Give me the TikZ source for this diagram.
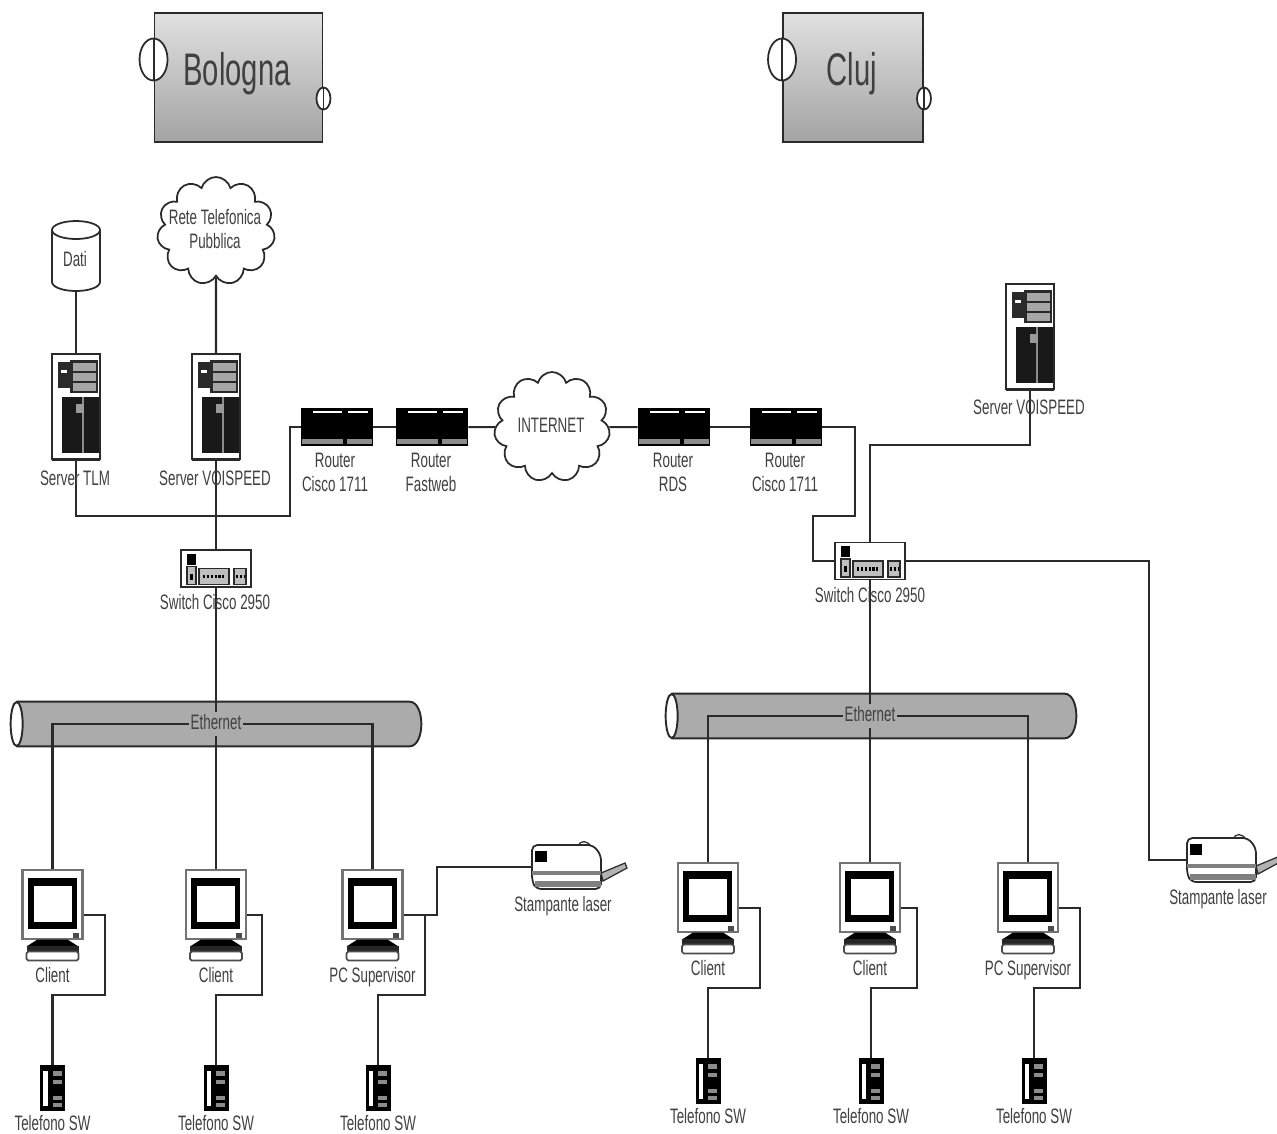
\documentclass[tikz,border=0pt]{standalone}
\usepackage{graphicx}
\usepackage{fontspec}
\setmainfont{Liberation Sans}
\usetikzlibrary{shapes.symbols,calc}
\pgfdeclarelayer{back}
\pgfsetlayers{back,main}
\definecolor{ink}{HTML}{2A2A2A}
\definecolor{txt}{HTML}{404040}
\definecolor{tubegray}{HTML}{ABABAB}
\newcommand{\sq}[1]{\scalebox{0.64}[1]{#1}}
\tikzset{
  x=0.02cm,y=-0.02cm,
  wire/.style={draw=ink,line width=1.15pt,line join=miter},
  lbl/.style={text=txt,inner sep=0pt,yshift=-0.04cm,text height=8.5pt,text depth=2.5pt,font=\fontsize{11.9}{13.6}\selectfont},
  lbltwo/.style={text=txt,inner sep=0pt,align=center,font=\fontsize{11.9}{13.6}\selectfont},
  big/.style={text=txt,inner sep=0pt,yshift=-0.08cm,text height=19pt,text depth=5.5pt,font=\fontsize{26}{30}\selectfont},
  iconbox/.style 2 args={inner sep=0pt,minimum width=#1*0.02cm,minimum height=#2*0.02cm},
  cloudbox/.style 2 args={cloud,cloud puffs=11,cloud ignores aspect,draw=ink,fill=white,line width=1pt,inner sep=0pt,minimum width=#1*0.02cm,minimum height=#2*0.02cm},
  site/.style 2 args={rectangle,draw=ink,line width=1.1pt,top color=black!12,bottom color=black!36,inner sep=0pt,minimum width=#1*0.02cm,minimum height=#2*0.02cm},
  ethlabel/.style={fill=tubegray,text=txt,inner sep=1pt,yshift=-0.04cm,text height=8.5pt,text depth=2.5pt,font=\fontsize{11.9}{13.6}\selectfont},
  icnserver/.pic={
    \fill[ink] (-24,48) rectangle (24,54);
    \draw[ink,fill=white,line width=1pt] (-24,-53) rectangle (24,52);
    \fill[ink] (-18,-45) rectangle (-6,-19);
    \fill[white] (-15,-37) rectangle (-9,-34);
    \fill[ink] (-6,-47) rectangle (22,-14);
    \fill[black!35] (-3,-44) rectangle (20,-36);
    \fill[black!35] (-3,-34) rectangle (20,-26);
    \fill[black!35] (-3,-24) rectangle (20,-16);
    \fill[black!90] (-14,-10) rectangle (23,46);
    \fill[black!45] (5.5,-10) rectangle (7.5,46);
    \fill[black!40] (0,-3) rectangle (8,6);
  },
  icnrouter/.pic={
    \fill[black] (-36,-19) rectangle (36,19);
    \fill[white] (-24,-16) rectangle (5,-14);
    \fill[white] (11,-16) rectangle (31,-14);
    \fill[black!45] (-35,12) rectangle (35,17);
    \fill[black] (6,10) rectangle (10,19);
  },
  icnswitch/.pic={
    \draw[ink,fill=white,line width=1pt] (-35,-18.5) rectangle (35,18.5);
    \fill[black] (-29,-15) rectangle (-20,-4);
    \draw[ink,fill=black!25,line width=.6pt] (-29,-2) rectangle (-20,16);
    \fill[black] (-26,5) rectangle (-23,11);
    \draw[ink,fill=black!25,line width=.8pt] (-17,0) rectangle (13,16);
    \draw[black,line width=2pt,dash pattern=on 1.2pt off 1pt] (-13,8) -- (10,8);
    \draw[ink,fill=black!25,line width=.8pt] (18,0) rectangle (30,16);
    \draw[black,line width=2pt,dash pattern=on 1.2pt off 1pt] (20,8) -- (28,8);
  },
  icnmonitor/.pic={
    \draw[black!55,fill=white,line width=1.4pt] (-30,-34.5) rectangle (30,34.5);
    \fill[black] (-25,-26.5) rectangle (24,24.5);
    \fill[white] (-19,-18.5) rectangle (19,17.5);
    \fill[black!70] (20,28) rectangle (26,33);
    \fill[black] (-15,35) -- (15,35) -- (26,42) -- (-26,42) -- cycle;
    \fill[black!85] (-26,41) rectangle (26,48);
    \draw[black!70,fill=white,line width=1pt,rounded corners=1pt] (-26,47) rectangle (26,56);
  },
  icnphone/.pic={
    \fill[black] (-12.5,-23) rectangle (12.5,23);
    \draw[white,line width=2.4pt,rounded corners=1pt] (-7,-17) -- (-7,18);
    \fill[black!45] (0,-17) rectangle (9,-12);
    \fill[black!45] (0,-8) rectangle (9,-4);
    \fill[black!45] (0,8) rectangle (9,12);
    \fill[black!45] (0,15) rectangle (9,19);
  },
  icnprinter/.pic={
    \draw[ink,fill=black!30,line width=.7pt] (35,6) -- (59,-4) -- (61,1) -- (37,14) -- cycle;
    \draw[ink,fill=white,line width=.7pt] (12,-21) .. controls (14,-27) and (22,-27) .. (25,-20) -- cycle;
    \draw[ink,fill=white,line width=1pt,rounded corners=3pt] (-34,-22) -- (27,-22) -- (35,-12) -- (35,22) -- (-30,22) -- (-34,14) -- cycle;
    \fill[black] (-31,-16) rectangle (-19,-5);
    \fill[black!50] (-34,4) rectangle (35,8);
    \fill[black!50] (-31,14) rectangle (35,20);
  },
  icndisk/.pic={
    \draw[ink,fill=white,line width=1pt] (-24,-26) -- (-24,26) arc[start angle=180,end angle=360,x radius=24,y radius=-9] -- (24,-26) arc[start angle=0,end angle=180,x radius=24,y radius=-9];
    \draw[ink,line width=1pt] (-24,-26) arc[start angle=180,end angle=360,x radius=24,y radius=-9];
  },
}
\newcommand{\clientset}[6]{%
  \node[iconbox={60}{69}] (#1) at (#2,#3+34.5) {};
  \node[iconbox={25}{46}] (#1p) at (#6,#3+218) {};
  \coordinate (#1b) at (#5,#3+125);
  \begin{pgfonlayer}{back}
    \draw[wire] ($(#1.east)+(0,10)$) -| (#1b) -| (#1p.north);
  \end{pgfonlayer}
  \pic at (#1) {icnmonitor};
  \pic at (#1p) {icnphone};
  \node[lbl] (#1t) at (#2,#3+105) {\sq{#4}};
  \node[lbl] (#1pt) at (#6,#3+253) {\sq{Telefono SW}};
}
\newcommand{\tube}[3]{%
  \node[iconbox={410}{44}] (#1) at (#2,#3) {};
  \fill[tubegray,draw=ink,line width=1.1pt] ($(#1.north west)+(6,0)$) -- ($(#1.north east)+(-12,0)$)
    .. controls ($(#1.north east)+(4,0)$) and ($(#1.south east)+(4,0)$) .. ($(#1.south east)+(-12,0)$)
    -- ($(#1.south west)+(6,0)$);
  \draw[ink,fill=white,line width=1.1pt] ($(#1.west)+(6,0)$) ellipse[x radius=6,y radius=22];
}
\begin{document}
\begin{tikzpicture}
\useasboundingbox (0,0) rectangle (1277,1133);
\begin{pgfonlayer}{back}
  \fill[white] (0,0) rectangle (1277,1133);
\end{pgfonlayer}

% sites
\node[site={168}{129}] (bologna) at (238.5,77.5) {};
\fill[white] ($(bologna.west)+(0,-18)$) ellipse[x radius=14,y radius=21];
\draw[ink,line width=1pt] ($(bologna.west)+(0,-18)$) ellipse[x radius=14,y radius=21];
\draw[ink,line width=1.1pt] ($(bologna.west)+(0,-39)$) -- ($(bologna.west)+(0,3)$);
\fill[white] ($(bologna.east)+(0,21)$) ellipse[x radius=7,y radius=11];
\draw[ink,line width=1pt] ($(bologna.east)+(0,21)$) ellipse[x radius=7,y radius=11];
\draw[ink,line width=1.1pt] ($(bologna.east)+(0,10)$) -- ($(bologna.east)+(0,32)$);
\node[big] (bolognat) at (237,70) {\sq{Bologna}};

\node[site={140}{129}] (cluj) at (853,77.5) {};
\fill[white] ($(cluj.west)+(0,-18)$) ellipse[x radius=14,y radius=21];
\draw[ink,line width=1pt] ($(cluj.west)+(0,-18)$) ellipse[x radius=14,y radius=21];
\draw[ink,line width=1.1pt] ($(cluj.west)+(0,-39)$) -- ($(cluj.west)+(0,3)$);
\fill[white] ($(cluj.east)+(0,21)$) ellipse[x radius=7,y radius=11];
\draw[ink,line width=1pt] ($(cluj.east)+(0,21)$) ellipse[x radius=7,y radius=11];
\draw[ink,line width=1.1pt] ($(cluj.east)+(0,10)$) -- ($(cluj.east)+(0,32)$);
\node[big] (clujt) at (852,70) {\sq{Cluj}};

% placed devices
\node[iconbox={48}{70}] (dati) at (76,256) {};
\node[iconbox={48}{106}] (tlm) at (76,407) {};
\node[iconbox={48}{106}] (voip) at (216,407) {};
\node[cloudbox={118}{108}] (pstn) at (216,231) {};
\node[iconbox={72}{38}] (r1) at (337,427) {};
\node[iconbox={72}{38}] (r2) at (432,427) {};
\node[cloudbox={116}{110}] (inet) at (552,427) {};
\node[iconbox={72}{38}] (r3) at (674,427) {};
\node[iconbox={72}{38}] (r4) at (786,427) {};
\node[iconbox={70}{37}] (sw1) at (216,568.5) {};
\node[iconbox={70}{37}] (sw2) at (870,561) {};
\node[iconbox={48}{106}] (voip2) at (1030,337) {};
\node[iconbox={70}{44}] (pr1) at (566,867) {};
\node[iconbox={70}{44}] (pr2) at (1221,860) {};

\begin{pgfonlayer}{back}
  \tube{tube1}{216}{724}
  \tube{tube2}{871}{716}
\end{pgfonlayer}

\node[ethlabel] (eth1) at (216,722) {\sq{Ethernet}};
\node[ethlabel] (eth2) at (870,714) {\sq{Ethernet}};

\clientset{c1}{52.5}{870}{Client}{105}{52.5}
\clientset{c2}{216}{870}{Client}{262}{216}
\clientset{c3}{372.5}{870}{PC Supervisor}{425}{378}
\clientset{d1}{708}{863}{Client}{760}{708}
\clientset{d2}{870}{863}{Client}{917}{871}
\clientset{d3}{1028}{863}{PC Supervisor}{1080}{1034}

\coordinate (j1) at (290,516);
\coordinate (j2) at (855,516);
\coordinate (j3) at (813,516);
\coordinate (j4) at (870,445);
\coordinate (j5) at (1149,860);
\coordinate (j6) at (437,867);

\begin{pgfonlayer}{back}
  \draw[wire] (dati) -- (tlm.north);
  \draw[wire] (pstn.south) -- (voip.north);
  \draw[wire] (tlm.south) |- (j1) |- (r1.west);
  \draw[wire] (voip.south) -- (sw1.north);
  \draw[wire] (sw1.south) -- (eth1.north);
  \draw[wire] (eth1.west) -| (c1.north);
  \draw[wire] (eth1.south) -- (c2.north);
  \draw[wire] (eth1.east) -| (c3.north);
  \draw[wire] (r1.east) -- (r2.west);
  \draw[wire] (r2.east) -- (inet.west);
  \draw[wire] (inet.east) -- (r3.west);
  \draw[wire] (r3.east) -- (r4.west);
  \draw[wire] (r4.east) -| (j2) -- (j3) |- (sw2.west);
  \draw[wire] (voip2.south) |- (j4) -- (sw2.north);
  \draw[wire] (sw2.south) -- (eth2.north);
  \draw[wire] (eth2.west) -| (d1.north);
  \draw[wire] (eth2.south) -- (d2.north);
  \draw[wire] (eth2.east) -| (d3.north);
  \draw[wire] (sw2.east) -| (j5) -- (pr2.west);
  \draw[wire] ($(c3.east)+(0,10)$) -| (j6) -- (pr1.west);
\end{pgfonlayer}

\pic at (dati) {icndisk};
\node[lbl] (datit) at (75,259) {\sq{Dati}};
\node[lbltwo] (pstnt) at (215,229) {\sq{Rete Telefonica}\\\sq{Pubblica}};
\node[lbl] (inett) at (551,425) {\sq{INTERNET}};
\pic at (tlm) {icnserver};
\pic at (voip) {icnserver};
\pic at (voip2) {icnserver};
\pic at (r1) {icnrouter};
\pic at (r2) {icnrouter};
\pic at (r3) {icnrouter};
\pic at (r4) {icnrouter};
\pic at (sw1) {icnswitch};
\pic at (sw2) {icnswitch};
\pic at (pr1) {icnprinter};
\pic at (pr2) {icnprinter};

\node[lbl] (tlmt) at (75,478) {\sq{Server TLM}};
\node[lbl] (voipt) at (215,478) {\sq{Server VOISPEED}};
\node[lbl] (voip2t) at (1029,407) {\sq{Server VOISPEED}};
\node[lbltwo] (r1t) at (335,472) {\sq{Router}\\\sq{Cisco 1711}};
\node[lbltwo] (r2t) at (431,472) {\sq{Router}\\\sq{Fastweb}};
\node[lbltwo] (r3t) at (673,472) {\sq{Router}\\\sq{RDS}};
\node[lbltwo] (r4t) at (785,472) {\sq{Router}\\\sq{Cisco 1711}};
\node[lbl] (sw1t) at (215,602) {\sq{Switch Cisco 2950}};
\node[lbl] (sw2t) at (870,595) {\sq{Switch Cisco 2950}};
\node[lbl] (pr1t) at (563,904) {\sq{Stampante laser}};
\node[lbl] (pr2t) at (1218,897) {\sq{Stampante laser}};
\end{tikzpicture}
\end{document}
